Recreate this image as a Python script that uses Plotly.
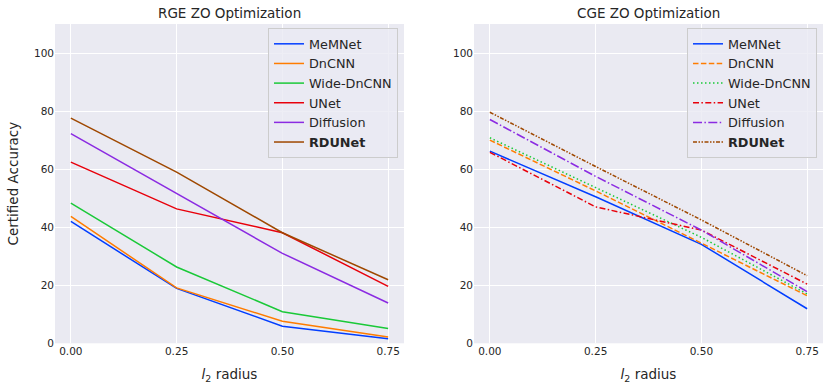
import plotly.graph_objects as go

radius = [0.0, 0.25, 0.5, 0.75]
models = ["MeMNet", "DnCNN", "Wide-DnCNN", "UNet", "Diffusion", "RDUNet"]

rge_memnet = [42.0, 18.9, 5.9, 1.6]
rge_dncnn = [43.7, 19.1, 7.6, 2.2]
rge_wide = [48.3, 26.3, 10.9, 5.1]
rge_unet = [62.4, 46.3, 38.1, 19.6]
rge_diffusion = [72.2, 51.6, 31.0, 13.9]
rge_rdunet = [77.6, 59.0, 38.1, 21.9]

cge_memnet = [66.2, 50.5, 34.1, 11.9]
cge_dncnn = [70.0, 52.5, 34.5, 16.4]
cge_wide = [70.8, 53.7, 36.5, 17.0]
cge_unet = [65.8, 47.0, 39.0, 20.4]
cge_diffusion = [77.1, 57.5, 39.0, 17.8]
cge_rdunet = [79.6, 60.9, 42.5, 23.3]

xticks = [0.0, 0.25, 0.5, 0.75]
xticklabels = ["0.00", "0.25", "0.50", "0.75"]
yticks = [0, 20, 40, 60, 80, 100]

colors = ["#023eff", "#ff7c00", "#1ac938", "#e8000b", "#8b2be2", "#9f4800"]
cge_dashes = ["solid", "5.5px,2.4px", "1.5px,2.5px", "6px,2.4px,1.5px,2.4px",
              "9px,2.4px,1.5px,2.4px", "4px,1.5px,1.5px,1.5px,1.5px,1.5px"]

rge = [rge_memnet, rge_dncnn, rge_wide, rge_unet, rge_diffusion, rge_rdunet]
cge = [cge_memnet, cge_dncnn, cge_wide, cge_unet, cge_diffusion, cge_rdunet]

W, H = 830, 389
FONT = "DejaVu Sans"

fig = go.Figure()
for i, m in enumerate(models):
    label = f"<b>{m}</b>" if m == "RDUNet" else m
    fig.add_trace(go.Scatter(x=radius, y=rge[i], mode="lines", name=label,
                             line=dict(color=colors[i], width=1.5),
                             xaxis="x", yaxis="y", legend="legend"))
for i, m in enumerate(models):
    label = f"<b>{m}</b>" if m == "RDUNet" else m
    fig.add_trace(go.Scatter(x=radius, y=cge[i], mode="lines", name=label,
                             line=dict(color=colors[i], width=1.5, dash=cge_dashes[i]),
                             xaxis="x2", yaxis="y2", legend="legend2"))

def px_x(p):
    return p / W

def px_y(p):
    return 1 - p / H

axis_common = dict(showgrid=True, gridcolor="white", gridwidth=1, zeroline=False,
                   showline=False, ticks="", automargin=False,
                   tickfont=dict(family=FONT, size=10.5, color="#262626"))

legend_common = dict(xanchor="right", yanchor="top",
                     bgcolor="rgba(234,234,242,0.8)", bordercolor="#cccccc", borderwidth=1,
                     font=dict(family=FONT, size=12.8, color="#262626"), tracegroupgap=0,
                     itemwidth=30)

fig.update_layout(
    width=W, height=H,
    margin=dict(l=0, r=0, t=0, b=0, autoexpand=False),
    paper_bgcolor="white",
    plot_bgcolor="#eaeaf2",
    font=dict(family=FONT, color="#262626"),
    xaxis=dict(domain=[px_x(55), px_x(404)], range=[-0.0375, 0.7875],
               tickvals=xticks, ticktext=xticklabels, anchor="y",
               title=dict(text="<i>l</i><sub>2</sub> radius", font=dict(family=FONT, size=13.5), standoff=13),
               **axis_common),
    yaxis=dict(domain=[px_y(343.3), px_y(24)], range=[0, 110], tickvals=yticks, anchor="x",
               title=dict(text="Certified Accuracy", font=dict(family=FONT, size=13.5), standoff=12),
               **axis_common),
    xaxis2=dict(domain=[px_x(474), px_x(823)], range=[-0.0375, 0.7875],
                tickvals=xticks, ticktext=xticklabels, anchor="y2",
                title=dict(text="<i>l</i><sub>2</sub> radius", font=dict(family=FONT, size=13.5), standoff=13),
                **axis_common),
    yaxis2=dict(domain=[px_y(343.3), px_y(24)], range=[0, 110], tickvals=yticks, anchor="x2",
                **axis_common),
    legend=dict(x=px_x(398), y=px_y(28), **legend_common),
    legend2=dict(x=px_x(817), y=px_y(28), **legend_common),
    annotations=[
        dict(text="RGE ZO Optimization", x=(px_x(55) + px_x(404)) / 2, y=px_y(13),
             xref="paper", yref="paper", showarrow=False, xanchor="center", yanchor="middle",
             font=dict(family=FONT, size=13.5, color="#262626")),
        dict(text="CGE ZO Optimization", x=(px_x(474) + px_x(823)) / 2, y=px_y(13),
             xref="paper", yref="paper", showarrow=False, xanchor="center", yanchor="middle",
             font=dict(family=FONT, size=13.5, color="#262626")),
    ],
)

fig.write_html("out.html", config={"displayModeBar": False},
               post_script="document.body.style.margin='0px';document.body.style.padding='0px';")
